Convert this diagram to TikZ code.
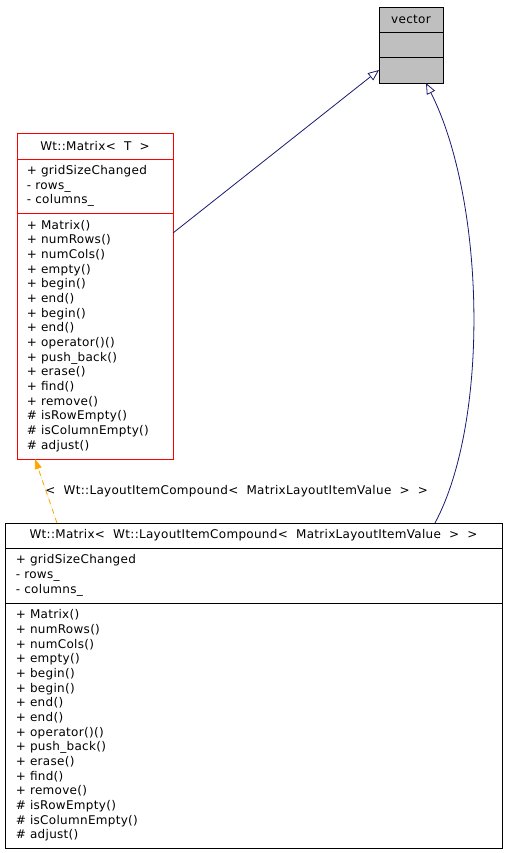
\documentclass[tikz,border=0pt]{standalone}
\usepackage{fontspec}
\setmainfont{DejaVu Sans}[LetterSpace=2.5, WordSpace=2]
\usetikzlibrary{arrows.meta,positioning,calc}

\definecolor{edgeblue}{HTML}{191970}
\definecolor{tplorange}{HTML}{FFA500}
\definecolor{basegray}{HTML}{BFBFBF}

\begin{document}
\begin{tikzpicture}[
    x=1pt, y=-1pt,
    cls/.style={draw, rectangle, line width=0.8pt, inner sep=0pt, outer sep=0pt, fill=white, font=\fontsize{12}{14.67}\selectfont},
    head/.style={cls, align=center},
    part/.style={cls, align=left, inner xsep=10pt},
    inherit/.style={-{Triangle[open, length=11pt, width=9pt]}, draw=edgeblue, line width=0.8pt},
    tplarrow/.style={-{Triangle[length=10pt, width=7pt]}, draw=tplorange, fill=tplorange, line width=0.8pt, dashed, dash pattern=on 5pt off 5pt}
]
    \useasboundingbox (0,0) rectangle (508,853);

    % Base class
    \node[head, fill=basegray, anchor=north west, minimum width=64pt, minimum height=25pt] (vT) at (379,7) {vector};
    \node[cls, fill=basegray, below=0pt of vT, minimum width=64pt, minimum height=25pt] (vA) {};
    \node[cls, fill=basegray, below=0pt of vA, minimum width=64pt, minimum height=26pt] (vM) {};

    % Template class
    \node[head, draw=red, anchor=north west, minimum width=156pt, minimum height=26pt] (tT) at (17,133) {Wt::Matrix< T >};
    \node[part, draw=red, below=0pt of tT, text width=136pt, minimum height=54pt] (tA) {%
        + gridSizeChanged\\- rows\_\\- columns\_};
    \node[part, draw=red, below=0pt of tA, text width=136pt, minimum height=246pt] (tM) {%
        + Matrix()\\+ numRows()\\+ numCols()\\+ empty()\\+ begin()\\+ end()\\+ begin()\\+ end()\\
        + operator()()\\+ push\_back()\\+ erase()\\+ find()\\+ remove()\\
        \# isRowEmpty()\\\# isColumnEmpty()\\\# adjust()};

    % Instantiated class
    \node[head, anchor=north west, minimum width=497pt, minimum height=25pt] (bT) at (5,523) {%
        Wt::Matrix< Wt::LayoutItemCompound< MatrixLayoutItemValue > >};
    \node[part, below=0pt of bT, text width=475pt, inner xsep=11pt, minimum height=55pt] (bA) {%
        + gridSizeChanged\\- rows\_\\- columns\_};
    \node[part, below=0pt of bA, text width=475pt, inner xsep=11pt, minimum height=245pt] (bM) {%
        + Matrix()\\+ numRows()\\+ numCols()\\+ empty()\\+ begin()\\+ begin()\\+ end()\\+ end()\\
        + operator()()\\+ push\_back()\\+ erase()\\+ find()\\+ remove()\\
        \# isRowEmpty()\\\# isColumnEmpty()\\\# adjust()};

    % Edges
    \draw[inherit] ($(tM.north east)+(0,20)$) -- (vM.west);
    \draw[inherit] ($(bT.north east)+(-67,0)$) .. controls (490,420) and (485,200) .. ($(vM.south)+(15,0)$);
    \draw[tplarrow] ($(bT.north west)+(52,0)$) -- ($(tM.south west)+(18,0)$)
        node[midway, anchor=west, inner sep=0pt, xshift=-1pt, text=black, font=\fontsize{12}{14}\selectfont] {< Wt::LayoutItemCompound< MatrixLayoutItemValue > >};
\end{tikzpicture}
\end{document}
